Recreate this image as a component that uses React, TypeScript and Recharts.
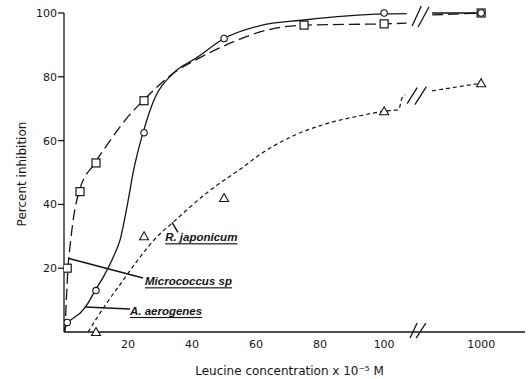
import { ComposedChart, Line, Scatter, XAxis, YAxis, ReferenceLine, ReferenceDot } from "recharts";

// measured points (leucine conc. x 1e-5 M, % inhibition)
const microConc = [1, 5, 10, 25, 75, 100, 1000];
const microPct = [20, 44, 53, 72.5, 96.2, 96.6, 100];
const aeroConc = [1, 10, 25, 50, 100, 1000];
const aeroPct = [3, 13, 62.5, 92, 100, 100];
const rjapConc = [10, 25, 50, 100, 1000];
const rjapPct = [0, 30, 42, 69.2, 78];

// hand-drawn fitted curves (null = axis break)
const microCurveConc = [0.3, 1.25, 2, 3, 4.7, 9.7, 14.4, 20, 24.7, 34, 42.5, 53, 61, 75, 100, 107, 112, 400, 1000];
const microCurvePct = [0, 20, 28, 36, 44, 53, 60, 67.5, 72.5, 81, 86, 91, 94, 96.2, 96.6, 96.8, null, 99.4, 100];
const aeroCurveConc = [0, 1, 3, 5, 7.1, 9.7, 12.3, 15.4, 17.5, 20, 21.7, 23.2, 24.7, 28, 34, 41.5, 50, 61, 75, 100, 107, 112, 400, 1000];
const aeroCurvePct = [0.3, 2.6, 4.4, 5.9, 8.4, 13, 17.3, 23.5, 28.8, 41, 50.5, 57, 62.5, 72.5, 81, 86, 92, 96, 97.8, 99.7, 99.8, null, 100, 100];
const rjapCurveConc = [7.5, 13.3, 18.5, 23.75, 29, 34.2, 39.4, 45.6, 50, 55, 61, 71.6, 82, 92.5, 100, 104.5, 105.6, 106.6, 112, 400, 1000];
const rjapCurvePct = [0, 9, 16.25, 23.5, 29.8, 34.5, 39.2, 44.4, 47.6, 51, 55.5, 61.5, 65.3, 67.8, 69.2, 69.7, 73.4, 74.4, null, 75.6, 78];

const xTicks = [20, 40, 60, 80, 100, 1000];
const yTicks = [20, 40, 60, 80, 100];

// broken x axis: linear up to ~110, then a compressed stretch ending at 1000
const toAxis = (c: number) => (c <= 112 ? c : 115 + ((c - 400) * 15.3) / 600);
const fromAxis = (v: number) => (v > 112 ? 1000 : v);

const pts = (xs: number[], ys: (number | null)[]) => xs.map((c, i) => ({ x: toAxis(c), y: ys[i] }));

// "//" marks where the axis and curves are broken
const breakMarks = [
  [[108.75, 95.9], [111.6, 102.2]],
  [[110.6, 95.6], [114, 101.9]],
  [[107.2, 71.6], [110.3, 76.6]],
  [[109.6, 71.25], [113.2, 76.9]],
  [[108.1, -1.9], [110.3, 2.8]],
  [[110, -1.9], [113, 2.8]],
];

const pointers = [
  { from: [33.75, 34.4], to: [35.6, 31.25] },
  { from: [1.25, 23.1], to: [24.7, 16.9] },
  { from: [6.6, 7.8], to: [20.6, 7.2] },
];
const names = [
  { text: "R. japonicum", x: 31.6, y: 29.7 },
  { text: "Micrococcus sp", x: 25.3, y: 15.9 },
  { text: "A. aerogenes", x: 20.6, y: 6.6 },
];

const ink = "#151515";
const font = "DejaVu Sans";

const circle = (p: any) => <circle cx={p.cx} cy={p.cy} r={3.2} fill="#fff" stroke={ink} strokeWidth={1.1} />;
const square = (p: any) => <rect x={p.cx - 4} y={p.cy - 4} width={8} height={8} fill="#fff" stroke={ink} strokeWidth={1.2} />;
const triangle = (p: any) => (
  <path d={`M${p.cx},${p.cy - 4.5}L${p.cx + 4.5},${p.cy + 3.5}L${p.cx - 4.5},${p.cy + 3.5}Z`} fill="#fff" stroke={ink} strokeWidth={1.1} />
);

export default function App() {
  return (
    <div style={{ position: "absolute", left: 0, top: 0, width: 528, height: 379, background: "#fff" }}>
      <ComposedChart width={528} height={379} margin={{ top: 13, right: 3, bottom: 0, left: 24 }}>
        <XAxis
          type="number"
          dataKey="x"
          domain={[0, 144]}
          ticks={xTicks.map(toAxis)}
          tickFormatter={(v: number) => String(fromAxis(v))}
          tickLine={false}
          tickSize={8}
          tickMargin={0}
          height={47}
          allowDataOverflow
          axisLine={{ stroke: ink, strokeWidth: 1.3 }}
          tick={{ fill: ink, fontSize: 11, fontFamily: font }}
          label={{ value: "Leucine concentration x 10⁻⁵ M", position: "insideBottom", offset: 4, dx: -5, fill: ink, fontSize: 12, fontFamily: font }}
        />
        <YAxis
          type="number"
          dataKey="y"
          domain={[0, 100]}
          ticks={yTicks}
          width={40}
          tickSize={6}
          tickMargin={1}
          axisLine={{ stroke: ink, strokeWidth: 1.3 }}
          tickLine={{ stroke: ink, strokeWidth: 1.3 }}
          tick={{ fill: ink, fontSize: 11, fontFamily: font }}
          label={{
            content: () => (
              <text x={22} y={174} transform="rotate(-90, 22, 174)" textAnchor="middle" dominantBaseline="central" fill={ink} fontSize={12} fontFamily={font}>
                Percent inhibition
              </text>
            ),
          }}
        />
        <Line data={pts(microCurveConc, microCurvePct)} dataKey="y" type="monotone" stroke={ink} strokeWidth={1.3} strokeDasharray="11 5" dot={false} isAnimationActive={false} />
        <Line data={pts(aeroCurveConc, aeroCurvePct)} dataKey="y" type="monotone" stroke={ink} strokeWidth={1.3} dot={false} isAnimationActive={false} />
        <Line data={pts(rjapCurveConc, rjapCurvePct)} dataKey="y" type="monotone" stroke={ink} strokeWidth={1.2} strokeDasharray="4 3" dot={false} isAnimationActive={false} />
        <Scatter data={pts(microConc, microPct)} shape={square} isAnimationActive={false} />
        <Scatter data={pts(aeroConc, aeroPct)} shape={circle} isAnimationActive={false} />
        <Scatter data={pts(rjapConc, rjapPct)} shape={triangle} isAnimationActive={false} />
        {breakMarks.map((m, i) => (
          <ReferenceLine key={"b" + i} segment={[{ x: m[0][0], y: m[0][1] }, { x: m[1][0], y: m[1][1] }]} stroke={ink} strokeWidth={1.3} ifOverflow="visible" />
        ))}
        {pointers.map((p, i) => (
          <ReferenceLine key={"p" + i} segment={[{ x: p.from[0], y: p.from[1] }, { x: p.to[0], y: p.to[1] }]} stroke={ink} strokeWidth={1.5} ifOverflow="visible" />
        ))}
        {names.map((n) => (
          <ReferenceDot
            key={n.text}
            x={n.x}
            y={n.y}
            r={1}
            fill="none"
            stroke="none"
            label={{
              content: (props: any) => (
                <text
                  x={props.viewBox.x + 1}
                  y={props.viewBox.y + 1}
                  dominantBaseline="central"
                  fill={ink}
                  fontSize={11.5}
                  fontWeight="bold"
                  fontStyle="italic"
                  fontFamily="Liberation Sans"
                  style={{ textDecoration: "underline" }}
                >
                  {n.text}
                </text>
              ),
            }}
          />
        ))}
      </ComposedChart>
    </div>
  );
}
